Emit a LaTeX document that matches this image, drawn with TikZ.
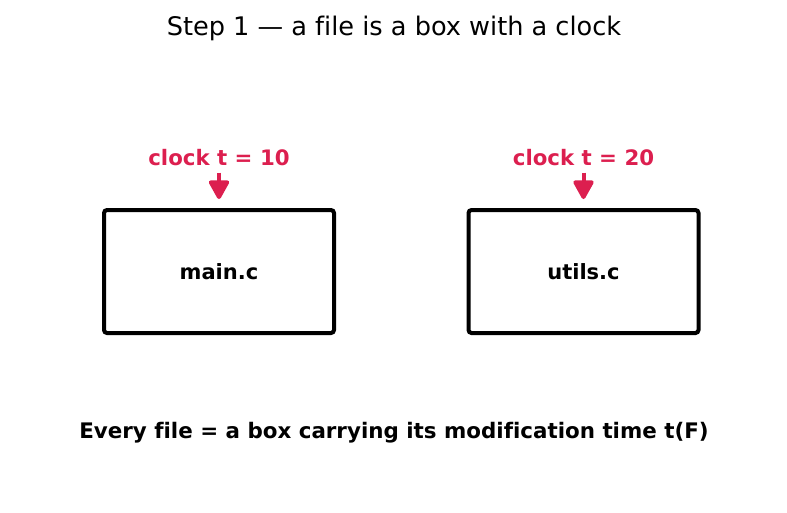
\documentclass[tikz,border=0pt]{standalone}
\usepackage{fontspec}
\setmainfont[Ligatures={NoCommon}]{DejaVu Sans}
\usetikzlibrary{arrows.meta, positioning}
\definecolor{clockred}{HTML}{DC1F4F}
\pgfkeys{/tikz/.cd,
    overall style/.style={
        x=1pt, y=-1pt,
        >={Triangle[width=22pt,length=21pt,round]},
        node distance=40pt
    },
    filebox/.style={draw, line width=4pt, rounded corners=3pt,
        minimum width=230pt, minimum height=123pt,
        font=\fontsize{21}{24}\selectfont\bfseries},
    clocklabel/.style={text=clockred, inner sep=0pt,
        font=\fontsize{21.3}{24}\selectfont\bfseries},
    clockarrow/.style={->, clockred, line width=4pt}
}

\begin{document}
\begin{tikzpicture}[overall style]
    \useasboundingbox (0,0) rectangle (787,512);

    % --- 1. title ---
    \node[font=\fontsize{25.6}{28}\selectfont] (title) at (394,28) {Step 1 — a file is a box with a clock};

    % --- 2. the two files ---
    \node[filebox] (mainbox) at (219,271.5) {main.c};
    \node[filebox] (utilsbox) at (583.5,271.5) {utils.c};

    % --- 3. clocks with arrows ---
    \node[clocklabel, above=42pt of mainbox.north] (clockmain) {clock t = 10};
    \node[clocklabel, above=42pt of utilsbox.north] (clockutils) {clock t = 20};

    \draw[clockarrow, shorten <=6.5pt, shorten >=9pt] (clockmain.south) -- (mainbox.north);
    \draw[clockarrow, shorten <=6.5pt, shorten >=9pt] (clockutils.south) -- (utilsbox.north);

    % --- 4. caption ---
    \node[font=\fontsize{21.4}{24}\selectfont\bfseries] (caption) at (394,433) {Every file = a box carrying its modification time t(F)};
\end{tikzpicture}
\end{document}
